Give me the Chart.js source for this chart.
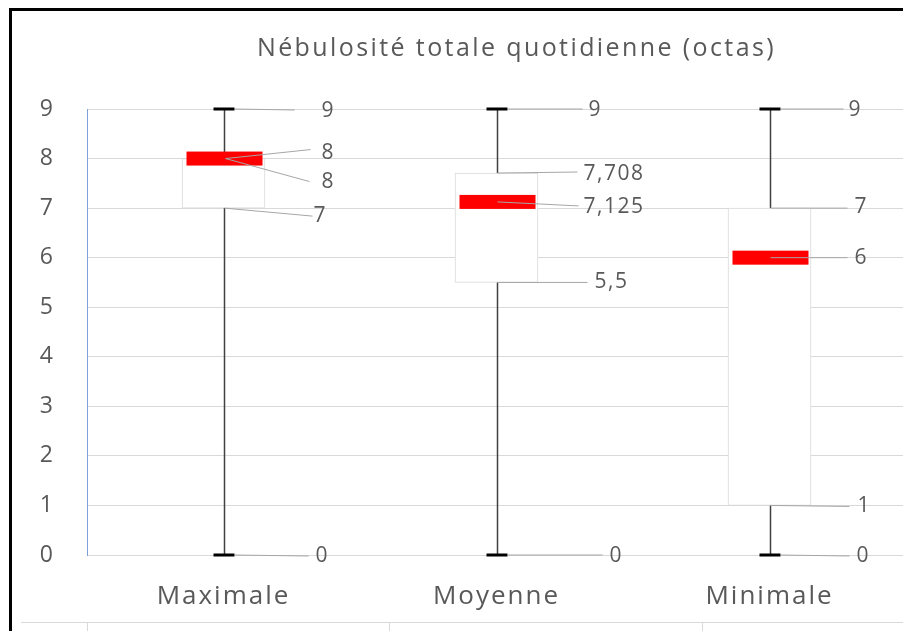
<!DOCTYPE html>
<html>
<head>
<meta charset="utf-8">
<script src="https://cdn.jsdelivr.net/npm/chart.js@4.4.1/dist/chart.umd.min.js"></script>
<style>
    html, body { margin: 0; padding: 0; background: #fff; overflow: hidden; width: 903px; height: 631px; }
    #wrap { position: relative; width: 903px; height: 631px; overflow: hidden; }
    #cv { position: absolute; left: 0; top: 0; }
    .frame-top { position: absolute; left: 9px; top: 8px; width: 900px; height: 3px; background: #000; }
    .frame-left { position: absolute; left: 9px; top: 8px; width: 3px; height: 630px; background: #000; }
    .foot-line { position: absolute; left: 21px; top: 622px; width: 890px; height: 1px; background: #d9d9d9; }
    .foot-tick { position: absolute; top: 622px; width: 1px; height: 10px; background: #d9d9d9; }
</style>
</head>
<body>
<div id="wrap">
    <canvas id="cv" width="1033" height="631"></canvas>
    <div class="frame-top"></div>
    <div class="frame-left"></div>
    <div class="foot-line"></div>
    <div class="foot-tick" style="left:87px"></div>
    <div class="foot-tick" style="left:389px"></div>
    <div class="foot-tick" style="left:702px"></div>
</div>
<script>
var chartTitle = 'Nébulosité totale quotidienne (octas)';
var categories = ['Maximale', 'Moyenne', 'Minimale'];
var minVals = [0, 0, 0];
var q1Vals = [7, 5.5, 1];
var medianVals = [8, 7.125, 6];
var q3Vals = [8, 7.708, 7];
var maxVals = [9, 9, 9];
var yTicks = [0, 1, 2, 3, 4, 5, 6, 7, 8, 9];

// callout placement (pixel offsets from category centre / value point)
var calloutLayout = [
    {
        max: { ax: 10, lx: 70, ly: 1, tx: 97, ty: 2 },
        q3: { ax: 1, lx: 86, ly: -9, tx: 97, ty: -6 },
        med: { ax: 1, lx: 85, ly: 23, tx: 97, ty: 23 },
        q1: { ax: 0, lx: 88, ly: 8, tx: 89, ty: 8 },
        min: { ax: 10, lx: 84, ly: 1, tx: 91, ty: 1 }
    },
    {
        max: { ax: 10, lx: 85, ly: 0, tx: 91, ty: 1 },
        q3: { ax: 0, lx: 80, ly: -1, tx: 86, ty: 1 },
        med: { ax: 0, lx: 81, ly: 4, tx: 86, ty: 5 },
        q1: { ax: 0, lx: 90, ly: 0, tx: 97, ty: 0 },
        min: { ax: 10, lx: 105, ly: 0, tx: 112, ty: 1 }
    },
    {
        max: { ax: 10, lx: 73, ly: 0, tx: 78, ty: 1 },
        q3: { ax: 0, lx: 77, ly: 0, tx: 84, ty: -1 },
        med: { ax: 0, lx: 77, ly: 0, tx: 84, ty: 0 },
        q1: { ax: 0, lx: 79, ly: 1, tx: 87, ty: 1 },
        min: { ax: 10, lx: 79, ly: 1, tx: 86, ty: 1 }
    }
];

var TEXT_COLOR = '#595959';
var FONT_FAMILY = '"Open Sans", "Noto Sans", sans-serif';

function fmt(v) {
    return String(v).replace('.', ',');
}

// the source rendering has slightly wide letter spacing
var spacingPlugin = {
    id: 'spacing',
    beforeDraw: function (chart) {
        chart.ctx.letterSpacing = '2px';
    }
};

// title is offset to the right of the plot centre in the source
var titlePlugin = {
    id: 'offsetTitle',
    afterDraw: function (chart) {
        var ctx = chart.ctx;
        var area = chart.chartArea;
        ctx.save();
        ctx.font = '25px ' + FONT_FAMILY;
        ctx.letterSpacing = '2.4px';
        ctx.fillStyle = TEXT_COLOR;
        ctx.textAlign = 'center';
        ctx.textBaseline = 'middle';
        ctx.fillText(chartTitle, (area.left + area.right) / 2 + 20, 49);
        ctx.restore();
    }
};

var boxExtrasPlugin = {
    id: 'boxExtras',
    afterDatasetsDraw: function (chart) {
        var ctx = chart.ctx;
        var xs = chart.scales.x;
        var ys = chart.scales.y;
        ctx.save();
        categories.forEach(function (cat, i) {
            var cx = Math.round(xs.getPixelForValue(i)) + 0.5;
            var yMax = ys.getPixelForValue(maxVals[i]);
            var yQ3 = ys.getPixelForValue(q3Vals[i]);
            var yQ1 = ys.getPixelForValue(q1Vals[i]);
            var yMin = ys.getPixelForValue(minVals[i]);
            var yMed = ys.getPixelForValue(medianVals[i]);

            // whiskers
            ctx.strokeStyle = '#404040';
            ctx.lineWidth = 1.5;
            ctx.beginPath();
            ctx.moveTo(cx, yMax);
            ctx.lineTo(cx, yQ3);
            ctx.moveTo(cx, yQ1);
            ctx.lineTo(cx, yMin);
            ctx.stroke();

            // caps
            ctx.fillStyle = '#000';
            ctx.fillRect(cx - 11, yMax - 1.5, 21, 3);
            ctx.fillRect(cx - 11, yMin - 1.5, 21, 3);

            // median bar
            ctx.fillStyle = '#ff0000';
            ctx.fillRect(cx - 38, yMed - 7, 76, 14);

            // callouts
            var lay = calloutLayout[i];
            var pts = {
                max: { v: maxVals[i], y: yMax },
                q3: { v: q3Vals[i], y: yQ3 },
                med: { v: medianVals[i], y: yMed },
                q1: { v: q1Vals[i], y: yQ1 },
                min: { v: minVals[i], y: yMin }
            };
            ctx.strokeStyle = '#a6a6a6';
            ctx.lineWidth = 1;
            ctx.font = '21px ' + FONT_FAMILY;
            ctx.letterSpacing = '1.5px';
            ctx.textAlign = 'left';
            ctx.textBaseline = 'middle';
            Object.keys(pts).forEach(function (k) {
                var p = pts[k];
                var l = lay[k];
                ctx.beginPath();
                ctx.moveTo(cx + l.ax, p.y);
                ctx.lineTo(cx + l.lx, p.y + l.ly);
                ctx.stroke();
                ctx.fillStyle = TEXT_COLOR;
                ctx.fillText(fmt(p.v), cx + l.tx, p.y + l.ty);
            });
        });
        ctx.restore();
    }
};

var ctx = document.getElementById('cv').getContext('2d');
var chart = new Chart(ctx, {
    type: 'bar',
    data: {
        labels: categories,
        datasets: [{
            label: 'Boîte',
            data: q1Vals.map(function (q, i) { return [q, q3Vals[i]]; }),
            backgroundColor: '#ffffff',
            borderColor: '#d9d9d9',
            borderWidth: 1,
            borderSkipped: false,
            barThickness: 83
        }]
    },
    options: {
        responsive: false,
        animation: false,
        devicePixelRatio: 1,
        layout: { padding: { left: 0, right: 127, top: 109, bottom: 6 } },
        plugins: {
            legend: { display: false },
            tooltip: { enabled: false },
            title: { display: false }
        },
        scales: {
            x: {
                grid: { display: false, drawTicks: false },
                border: { display: false },
                ticks: {
                    color: TEXT_COLOR,
                    font: { family: FONT_FAMILY, size: 26 },
                    padding: 26
                },
                afterFit: function (scale) { scale.height = 70; }
            },
            y: {
                min: 0,
                max: 9,
                afterBuildTicks: function (scale) {
                    scale.ticks = yTicks.map(function (v) { return { value: v }; });
                },
                grid: { color: '#d9d9d9', drawTicks: false },
                border: { color: '#7f9fd8', width: 1 },
                ticks: {
                    color: TEXT_COLOR,
                    font: { family: FONT_FAMILY, size: 23 },
                    padding: 32
                },
                afterFit: function (scale) { scale.width = 87; }
            }
        }
    },
    plugins: [spacingPlugin, boxExtrasPlugin, titlePlugin]
});
</script>
</body>
</html>
